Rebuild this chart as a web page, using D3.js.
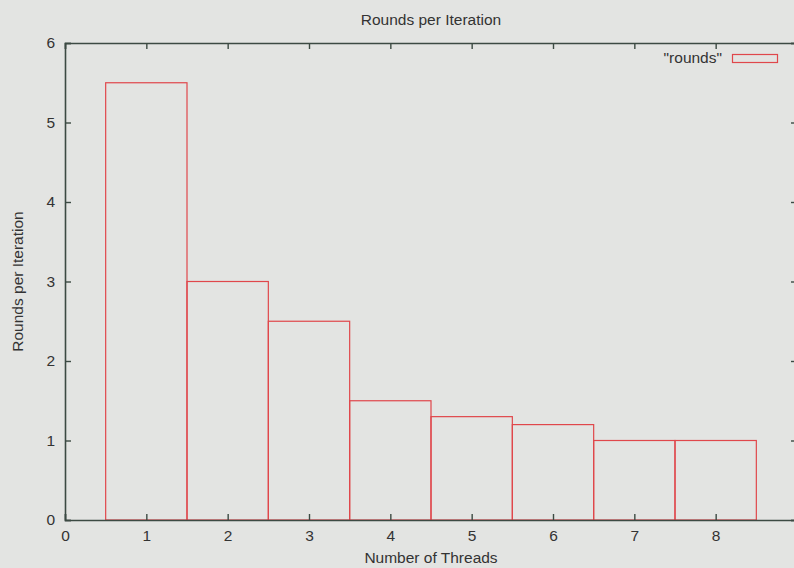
<!DOCTYPE html>
<html>
<head>
<meta charset="utf-8">
<script src="https://cdn.jsdelivr.net/npm/d3@7"></script>
<style>
  html, body { margin: 0; padding: 0; background: #e3e4e2; }
  svg { display: block; }
  text { font-family: "Liberation Sans", Arial, sans-serif; fill: #333; }
</style>
</head>
<body>
<svg id="chart" width="794" height="568"></svg>
<script>
// Rounds per iteration for each thread count
const threads = [1, 2, 3, 4, 5, 6, 7, 8];
const rounds = [5.5, 3, 2.5, 1.5, 1.3, 1.2, 1, 1];
const xTicks = [0, 1, 2, 3, 4, 5, 6, 7, 8];
const yTicks = [0, 1, 2, 3, 4, 5, 6];

(function () {
  const W = 794, H = 568;
  const margin = { left: 65, right: -3, top: 43, bottom: 48 };
  const svg = d3.select("#chart");

  const x = d3.scaleLinear().domain([0, 9]).range([margin.left, W - margin.right]);
  const y = d3.scaleLinear().domain([0, 6]).range([H - margin.bottom, margin.top]);

  const axisColor = "#3c4a43";
  const barColor = "#e0474b";
  const fontSize = "15.5px";
  const tickLen = 6;

  // Bars: boxes of width 1 centred on each thread count
  svg.append("g").selectAll("rect")
    .data(threads)
    .join("rect")
    .attr("x", d => x(d - 0.5))
    .attr("y", (d, i) => y(rounds[i]))
    .attr("width", d => x(d + 0.5) - x(d - 0.5))
    .attr("height", (d, i) => y(0) - y(rounds[i]))
    .attr("fill", "none")
    .attr("stroke", barColor)
    .attr("stroke-width", 1.2);

  // Axes with mirrored ticks on top and right
  const axB = d3.axisBottom(x).tickValues(xTicks).tickFormat(d3.format("d")).tickSize(-tickLen).tickPadding(10);
  const axT = d3.axisTop(x).tickValues(xTicks).tickFormat("").tickSize(-tickLen);
  const axL = d3.axisLeft(y).tickValues(yTicks).tickFormat(d3.format("d")).tickSize(-tickLen).tickPadding(10);
  const axR = d3.axisRight(y).tickValues(yTicks).tickFormat("").tickSize(-tickLen);

  function styleAxis(g) {
    g.selectAll(".domain").attr("stroke", axisColor).attr("stroke-width", 1.6);
    g.selectAll(".tick line").attr("stroke", axisColor).attr("stroke-width", 1.4);
    g.selectAll(".tick text").attr("font-size", fontSize).attr("fill", "#333")
      .attr("font-family", "Liberation Sans, Arial, sans-serif");
  }

  svg.append("g").attr("transform", `translate(0,${y(0)})`).call(axB).call(styleAxis);
  svg.append("g").attr("transform", `translate(0,${y(6)})`).call(axT).call(styleAxis);
  svg.append("g").attr("transform", `translate(${x(0)},0)`).call(axL).call(styleAxis);
  svg.append("g").attr("transform", `translate(${x(9)},0)`).call(axR).call(styleAxis);

  // Titles
  const cx = (x(0) + x(9)) / 2;
  svg.append("text").attr("x", cx).attr("y", 25).attr("text-anchor", "middle")
    .attr("font-size", fontSize).text("Rounds per Iteration");
  svg.append("text").attr("x", cx).attr("y", 563).attr("text-anchor", "middle")
    .attr("font-size", fontSize).text("Number of Threads");
  svg.append("text").attr("transform", `translate(23,${(y(0) + y(6)) / 2}) rotate(-90)`)
    .attr("text-anchor", "middle").attr("font-size", fontSize).text("Rounds per Iteration");

  // Legend
  const legend = svg.append("g");
  legend.append("text").attr("x", 722).attr("y", 63).attr("text-anchor", "end")
    .attr("font-size", fontSize).text("\"rounds\"");
  legend.append("rect").attr("x", 732.5).attr("y", 54.5).attr("width", 45).attr("height", 8)
    .attr("fill", "none").attr("stroke", barColor).attr("stroke-width", 1.2);
})();
</script>
</body>
</html>
